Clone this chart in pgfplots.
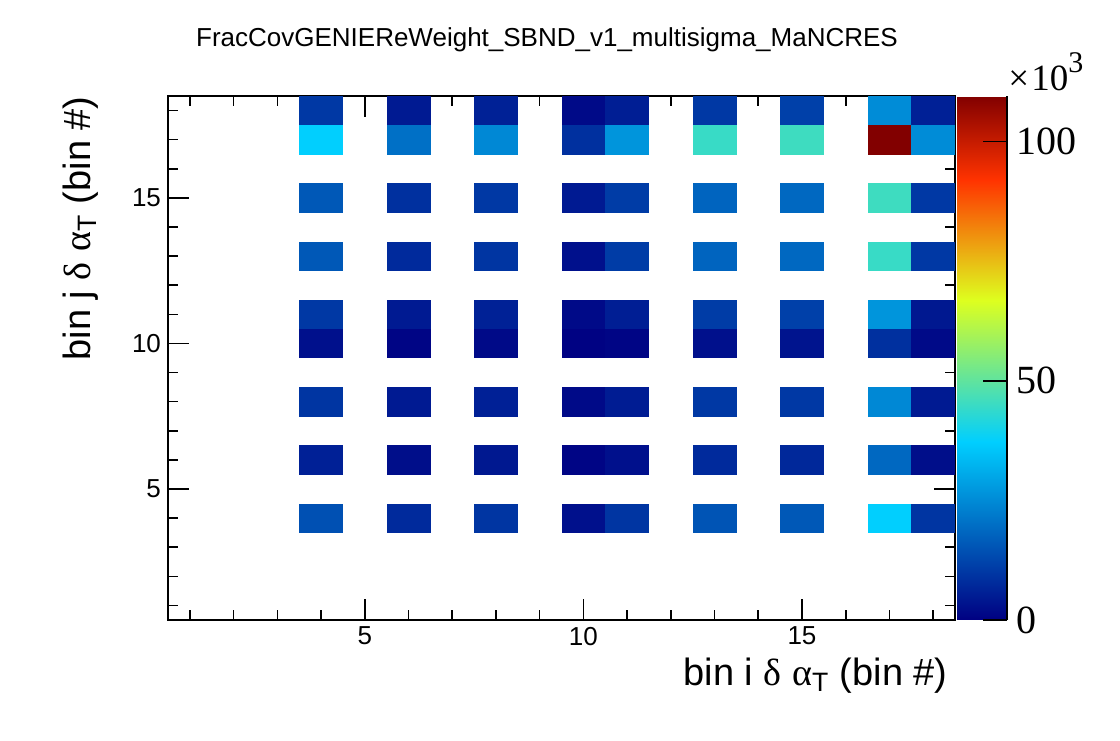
\documentclass[border=0pt]{standalone}
\usepackage{pgfplots}
\pgfplotsset{compat=1.18}
\usepackage{pgfplotstable}
\usepackage{fontspec}
\setmainfont{Liberation Sans}
\newfontfamily\helv{Liberation Sans}
\newfontfamily\tms{Liberation Serif}

\pgfplotstableread{
x y v
4 18 10.1
6 18 4.7
8 18 6.0
10 18 1.8
11 18 5.4
13 18 10.1
15 18 11.6
17 18 25.3
18 18 5.8
4 17 37.4
6 17 20.2
8 17 24.6
10 17 8.7
11 17 26.9
13 17 44.7
15 17 45.5
17 17 109.5
18 17 25.3
4 15 15.9
6 15 8.7
8 15 10.1
10 15 4.7
11 15 10.8
13 15 18.1
15 15 18.8
17 15 45.5
18 15 10.1
4 13 15.9
6 13 7.6
8 13 9.6
10 13 2.9
11 13 10.8
13 13 18.1
15 13 18.8
17 13 44.7
18 13 10.1
4 11 10.1
6 11 4.7
8 11 6.0
10 11 1.8
11 11 5.4
13 11 10.8
15 11 11.6
17 11 26.9
18 11 4.3
4 10 2.9
6 10 0.9
8 10 1.8
10 10 0.3
11 10 0.9
13 10 2.9
15 10 3.6
17 10 8.7
18 10 1.8
4 8 9.6
6 8 4.7
8 8 5.8
10 8 1.8
11 8 5.1
13 8 10.1
15 8 10.1
17 8 24.6
18 8 4.7
4 6 5.8
6 6 2.5
8 6 4.3
10 6 0.9
11 6 2.9
13 6 7.6
15 6 7.2
17 6 18.8
18 6 2.5
4 4 14.5
6 4 7.6
8 4 9.6
10 4 2.9
11 4 9.6
13 4 15.2
15 4 15.9
17 4 37.4
18 4 9.6
}\covdata

\begin{document}
\begin{tikzpicture}
\path[use as bounding box] (0,0) rectangle (560pt,370pt);
\begin{axis}[
  at={(84pt,60pt)}, anchor=south west,
  scale only axis, width=393.5pt, height=262pt,
  xmin=0.5, xmax=18.5, ymin=0.5, ymax=18.5,
  xtick={5,10,15}, ytick={5,10,15},
  minor xtick={1,...,18}, minor ytick={1,...,18},
  tick align=inside, major tick length=10.5pt, minor tick length=5pt,
  axis line style={line width=1pt},
  every tick/.style={black, line width=0.8pt},
  ticklabel style={font=\helv\fontsize{13}{13}\selectfont},
  /pgf/number format/assume math mode=true,
  colormap={rootpal}{rgb(0pt)=(0,0,0.51); rgb(34pt)=(0,0.81,1); rgb(61pt)=(0.87,1,0.12); rgb(84pt)=(1,0.2,0); rgb(100pt)=(0.51,0,0)},
  point meta min=0, point meta max=109.5,
  colorbar,
  colorbar/width=25pt,
  colorbar style={
    at={(parent axis.north east)}, anchor=north west, xshift=-7.5pt,
    scale only axis, width=25pt, height=262pt,
    xmin=0, xmax=1, xtick=\empty, minor xtick={},
    ymin=0, ymax=109.5,
    ytick={0,50,100}, minor ytick={}, ytick pos=right,
    enlargelimits=false,
    tick align=inside, major tick length=12pt,
    every tick/.style={black, line width=0.8pt},
    axis line style={draw=none},
    yticklabel style={font=\tms\fontsize{20}{20}\selectfont, xshift=1pt},
    /pgf/number format/assume math mode=true,
    after end axis/.code={\draw[line width=1pt] (rel axis cs:1,0) -- (rel axis cs:1,1);},
  },
]
\addplot[scatter, only marks, mark=square*, mark size=10.78pt, point meta=explicit,
  scatter/use mapped color={draw=mapped color, fill=mapped color},
  mark options={yscale=0.6612, line width=0.3pt}]
  table[x=x, y=y, meta=v] {\covdata};
\end{axis}
\node[font=\helv\fontsize{13}{13}\selectfont, anchor=base] at (273.5pt,346.5pt)
  {FracCovGENIEReWeight\_SBND\_v1\_multisigma\_MaNCRES};
\node[font=\helv\fontsize{19}{19}\selectfont, anchor=base east, inner sep=0pt] at (474pt,27.5pt)
  {bin i {\tms δ} {\tms α}\textsubscript{T} (bin \#)};
\node[font=\helv\fontsize{19}{19}\selectfont, anchor=base east, rotate=90, inner sep=0pt] at (45pt,322pt)
  {bin j {\tms δ} {\tms α}\textsubscript{T} (bin \#)};
\node[font=\tms\fontsize{18.5}{18.5}\selectfont, anchor=base west, inner sep=0pt] at (504pt,324.5pt)
  {×\kern1pt 10\raisebox{0.5em}{\fontsize{15}{15}\selectfont 3}};
\end{tikzpicture}
\end{document}
